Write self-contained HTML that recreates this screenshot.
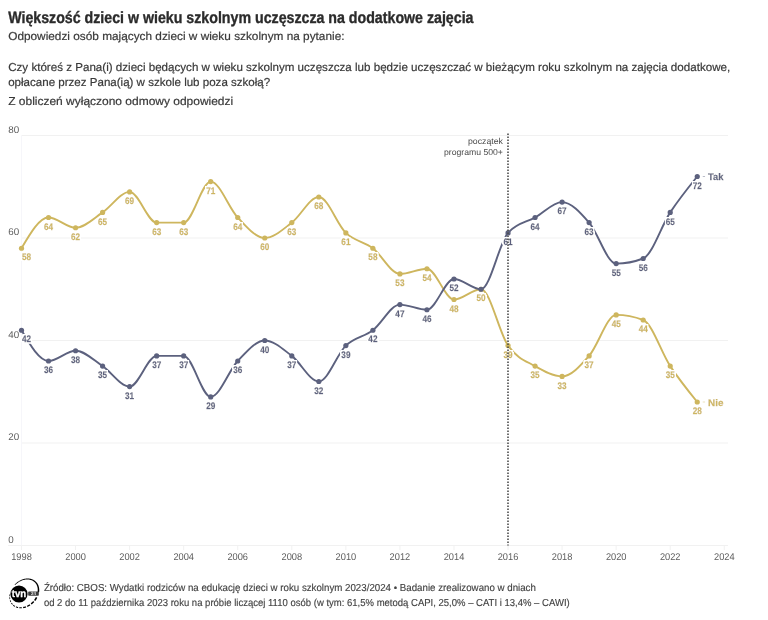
<!DOCTYPE html><html lang="pl"><head><meta charset="utf-8"><title>Większość dzieci w wieku szkolnym uczęszcza na dodatkowe zajęcia</title>
<style>html,body{margin:0;padding:0;background:#fff}svg{display:block}text{font-family:"Liberation Sans",sans-serif;text-rendering:geometricPrecision}</style></head><body>
<svg width="768" height="620" viewBox="0 0 768 620">
<rect width="768" height="620" fill="#fff"/>
<defs><filter id="halo" x="-40%" y="-40%" width="180%" height="180%"><feMorphology in="SourceAlpha" operator="dilate" radius="1.2" result="d"/><feGaussianBlur in="d" stdDeviation="0.35" result="b"/><feFlood flood-color="#fff"/><feComposite in2="b" operator="in" result="h"/><feComponentTransfer in="h" result="h2"><feFuncA type="linear" slope="3"/></feComponentTransfer><feMerge><feMergeNode in="h2"/><feMergeNode in="SourceGraphic"/></feMerge></filter></defs>
<text x="8.2" y="23.4" font-size="16.40" fill="#2b2b2b" text-anchor="start" font-weight="bold" textLength="465.3" lengthAdjust="spacingAndGlyphs" stroke="#2b2b2b" stroke-width="0.35">Większość dzieci w wieku szkolnym uczęszcza na dodatkowe zajęcia</text>
<text x="8.2" y="39.5" font-size="11.50" fill="#3a3a3a" text-anchor="start" font-weight="normal" textLength="336.3" lengthAdjust="spacingAndGlyphs" stroke="#3a3a3a" stroke-width="0.2">Odpowiedzi osób mających dzieci w wieku szkolnym na pytanie:</text>
<text x="8.2" y="70.5" font-size="11.50" fill="#3a3a3a" text-anchor="start" font-weight="normal" textLength="722.0" lengthAdjust="spacingAndGlyphs" stroke="#3a3a3a" stroke-width="0.2">Czy któreś z Pana(i) dzieci będących w wieku szkolnym uczęszcza lub będzie uczęszczać w bieżącym roku szkolnym na zajęcia dodatkowe,</text>
<text x="8.2" y="85.5" font-size="11.50" fill="#3a3a3a" text-anchor="start" font-weight="normal" textLength="262.0" lengthAdjust="spacingAndGlyphs" stroke="#3a3a3a" stroke-width="0.2">opłacane przez Pana(ią) w szkole lub poza szkołą?</text>
<text x="8.2" y="105.3" font-size="11.50" fill="#3a3a3a" text-anchor="start" font-weight="normal" textLength="225.0" lengthAdjust="spacingAndGlyphs" stroke="#3a3a3a" stroke-width="0.2">Z obliczeń wyłączono odmowy odpowiedzi</text>
<line x1="21.5" x2="728" y1="135.50" y2="135.50" stroke="#f1f1f1" stroke-width="1"/>
<text x="8.2" y="132.6" font-size="9.80" fill="#5c5c5c" text-anchor="start" font-weight="normal" >80</text>
<line x1="21.5" x2="728" y1="238.00" y2="238.00" stroke="#f1f1f1" stroke-width="1"/>
<text x="8.2" y="235.1" font-size="9.80" fill="#5c5c5c" text-anchor="start" font-weight="normal" >60</text>
<line x1="21.5" x2="728" y1="340.50" y2="340.50" stroke="#f1f1f1" stroke-width="1"/>
<text x="8.2" y="337.6" font-size="9.80" fill="#5c5c5c" text-anchor="start" font-weight="normal" >40</text>
<line x1="21.5" x2="728" y1="443.00" y2="443.00" stroke="#f1f1f1" stroke-width="1"/>
<text x="8.2" y="440.1" font-size="9.80" fill="#5c5c5c" text-anchor="start" font-weight="normal" >20</text>
<line x1="8" x2="728" y1="545.50" y2="545.50" stroke="#f1f1f1" stroke-width="1"/>
<text x="8.2" y="542.6" font-size="9.80" fill="#5c5c5c" text-anchor="start" font-weight="normal" >0</text>
<line x1="21.5" x2="21.5" y1="135.50" y2="545.5" stroke="#f6f6fa" stroke-width="1"/>
<line x1="21.50" x2="21.50" y1="545.5" y2="550" stroke="#f1f1f1" stroke-width="1"/>
<text x="21.5" y="560.4" font-size="9.80" fill="#5c5c5c" text-anchor="middle" font-weight="normal" textLength="20.6" lengthAdjust="spacingAndGlyphs" >1998</text>
<line x1="75.56" x2="75.56" y1="545.5" y2="550" stroke="#f1f1f1" stroke-width="1"/>
<text x="75.6" y="560.4" font-size="9.80" fill="#5c5c5c" text-anchor="middle" font-weight="normal" textLength="20.6" lengthAdjust="spacingAndGlyphs" >2000</text>
<line x1="129.62" x2="129.62" y1="545.5" y2="550" stroke="#f1f1f1" stroke-width="1"/>
<text x="129.6" y="560.4" font-size="9.80" fill="#5c5c5c" text-anchor="middle" font-weight="normal" textLength="20.6" lengthAdjust="spacingAndGlyphs" >2002</text>
<line x1="183.68" x2="183.68" y1="545.5" y2="550" stroke="#f1f1f1" stroke-width="1"/>
<text x="183.7" y="560.4" font-size="9.80" fill="#5c5c5c" text-anchor="middle" font-weight="normal" textLength="20.6" lengthAdjust="spacingAndGlyphs" >2004</text>
<line x1="237.74" x2="237.74" y1="545.5" y2="550" stroke="#f1f1f1" stroke-width="1"/>
<text x="237.7" y="560.4" font-size="9.80" fill="#5c5c5c" text-anchor="middle" font-weight="normal" textLength="20.6" lengthAdjust="spacingAndGlyphs" >2006</text>
<line x1="291.80" x2="291.80" y1="545.5" y2="550" stroke="#f1f1f1" stroke-width="1"/>
<text x="291.8" y="560.4" font-size="9.80" fill="#5c5c5c" text-anchor="middle" font-weight="normal" textLength="20.6" lengthAdjust="spacingAndGlyphs" >2008</text>
<line x1="345.86" x2="345.86" y1="545.5" y2="550" stroke="#f1f1f1" stroke-width="1"/>
<text x="345.9" y="560.4" font-size="9.80" fill="#5c5c5c" text-anchor="middle" font-weight="normal" textLength="20.6" lengthAdjust="spacingAndGlyphs" >2010</text>
<line x1="399.92" x2="399.92" y1="545.5" y2="550" stroke="#f1f1f1" stroke-width="1"/>
<text x="399.9" y="560.4" font-size="9.80" fill="#5c5c5c" text-anchor="middle" font-weight="normal" textLength="20.6" lengthAdjust="spacingAndGlyphs" >2012</text>
<line x1="453.98" x2="453.98" y1="545.5" y2="550" stroke="#f1f1f1" stroke-width="1"/>
<text x="454.0" y="560.4" font-size="9.80" fill="#5c5c5c" text-anchor="middle" font-weight="normal" textLength="20.6" lengthAdjust="spacingAndGlyphs" >2014</text>
<line x1="508.04" x2="508.04" y1="545.5" y2="550" stroke="#f1f1f1" stroke-width="1"/>
<text x="508.0" y="560.4" font-size="9.80" fill="#5c5c5c" text-anchor="middle" font-weight="normal" textLength="20.6" lengthAdjust="spacingAndGlyphs" >2016</text>
<line x1="562.10" x2="562.10" y1="545.5" y2="550" stroke="#f1f1f1" stroke-width="1"/>
<text x="562.1" y="560.4" font-size="9.80" fill="#5c5c5c" text-anchor="middle" font-weight="normal" textLength="20.6" lengthAdjust="spacingAndGlyphs" >2018</text>
<line x1="616.16" x2="616.16" y1="545.5" y2="550" stroke="#f1f1f1" stroke-width="1"/>
<text x="616.2" y="560.4" font-size="9.80" fill="#5c5c5c" text-anchor="middle" font-weight="normal" textLength="20.6" lengthAdjust="spacingAndGlyphs" >2020</text>
<line x1="670.22" x2="670.22" y1="545.5" y2="550" stroke="#f1f1f1" stroke-width="1"/>
<text x="670.2" y="560.4" font-size="9.80" fill="#5c5c5c" text-anchor="middle" font-weight="normal" textLength="20.6" lengthAdjust="spacingAndGlyphs" >2022</text>
<line x1="724.28" x2="724.28" y1="545.5" y2="550" stroke="#f1f1f1" stroke-width="1"/>
<text x="724.3" y="560.4" font-size="9.80" fill="#5c5c5c" text-anchor="middle" font-weight="normal" textLength="20.6" lengthAdjust="spacingAndGlyphs" >2024</text>
<text x="502.9" y="144.2" font-size="8.60" fill="#4a4a4a" text-anchor="end" font-weight="normal" textLength="34.9" lengthAdjust="spacingAndGlyphs" >początek</text>
<text x="502.9" y="155.1" font-size="8.60" fill="#4a4a4a" text-anchor="end" font-weight="normal" textLength="58.9" lengthAdjust="spacingAndGlyphs" >programu 500+</text>
<path d="M21.50,248.25C30.51,232.88,39.52,217.50,48.53,217.50C57.54,217.50,66.55,227.75,75.56,227.75C84.57,227.75,93.58,218.35,102.59,212.38C111.60,206.40,120.61,191.88,129.62,191.88C138.63,191.88,147.64,222.62,156.65,222.62C165.66,222.62,174.67,222.62,183.68,222.62C192.69,222.62,201.70,181.62,210.71,181.62C219.72,181.62,228.73,208.10,237.74,217.50C246.75,226.90,255.76,238.00,264.77,238.00C273.78,238.00,282.79,229.46,291.80,222.62C300.81,215.79,309.82,197.00,318.83,197.00C327.84,197.00,336.85,224.33,345.86,232.88C354.87,241.42,363.88,241.42,372.89,248.25C381.90,255.08,390.91,273.88,399.92,273.88C408.93,273.88,417.94,268.75,426.95,268.75C435.96,268.75,444.97,299.50,453.98,299.50C462.99,299.50,472.00,289.25,481.01,289.25C490.02,289.25,499.03,332.81,508.04,345.62C517.05,358.44,526.06,361.00,535.07,366.12C544.08,371.25,553.09,376.38,562.10,376.38C571.11,376.38,580.12,366.12,589.13,355.88C598.14,345.62,607.15,314.88,616.16,314.88C625.17,314.88,634.18,316.58,643.19,320.00C652.20,323.42,661.21,352.46,670.22,366.12C679.23,379.79,688.24,390.90,697.25,402.00" fill="none" stroke="#ceb65e" stroke-width="1.9" stroke-linejoin="round" stroke-linecap="round"/>
<circle cx="21.50" cy="248.25" r="2.6" fill="#ceb65e"/>
<circle cx="48.53" cy="217.50" r="2.6" fill="#ceb65e"/>
<circle cx="75.56" cy="227.75" r="2.6" fill="#ceb65e"/>
<circle cx="102.59" cy="212.38" r="2.6" fill="#ceb65e"/>
<circle cx="129.62" cy="191.88" r="2.6" fill="#ceb65e"/>
<circle cx="156.65" cy="222.62" r="2.6" fill="#ceb65e"/>
<circle cx="183.68" cy="222.62" r="2.6" fill="#ceb65e"/>
<circle cx="210.71" cy="181.62" r="2.6" fill="#ceb65e"/>
<circle cx="237.74" cy="217.50" r="2.6" fill="#ceb65e"/>
<circle cx="264.77" cy="238.00" r="2.6" fill="#ceb65e"/>
<circle cx="291.80" cy="222.62" r="2.6" fill="#ceb65e"/>
<circle cx="318.83" cy="197.00" r="2.6" fill="#ceb65e"/>
<circle cx="345.86" cy="232.88" r="2.6" fill="#ceb65e"/>
<circle cx="372.89" cy="248.25" r="2.6" fill="#ceb65e"/>
<circle cx="399.92" cy="273.88" r="2.6" fill="#ceb65e"/>
<circle cx="426.95" cy="268.75" r="2.6" fill="#ceb65e"/>
<circle cx="453.98" cy="299.50" r="2.6" fill="#ceb65e"/>
<circle cx="481.01" cy="289.25" r="2.6" fill="#ceb65e"/>
<circle cx="508.04" cy="345.62" r="2.6" fill="#ceb65e"/>
<circle cx="535.07" cy="366.12" r="2.6" fill="#ceb65e"/>
<circle cx="562.10" cy="376.38" r="2.6" fill="#ceb65e"/>
<circle cx="589.13" cy="355.88" r="2.6" fill="#ceb65e"/>
<circle cx="616.16" cy="314.88" r="2.6" fill="#ceb65e"/>
<circle cx="643.19" cy="320.00" r="2.6" fill="#ceb65e"/>
<circle cx="670.22" cy="366.12" r="2.6" fill="#ceb65e"/>
<circle cx="697.25" cy="402.00" r="2.6" fill="#ceb65e"/>
<path d="M21.50,330.25C30.51,345.62,39.52,361.00,48.53,361.00C57.54,361.00,66.55,350.75,75.56,350.75C84.57,350.75,93.58,360.15,102.59,366.12C111.60,372.10,120.61,386.62,129.62,386.62C138.63,386.62,147.64,355.88,156.65,355.88C165.66,355.88,174.67,355.88,183.68,355.88C192.69,355.88,201.70,396.88,210.71,396.88C219.72,396.88,228.73,370.40,237.74,361.00C246.75,351.60,255.76,340.50,264.77,340.50C273.78,340.50,282.79,349.04,291.80,355.88C300.81,362.71,309.82,381.50,318.83,381.50C327.84,381.50,336.85,354.17,345.86,345.62C354.87,337.08,363.88,337.08,372.89,330.25C381.90,323.42,390.91,304.62,399.92,304.62C408.93,304.62,417.94,309.75,426.95,309.75C435.96,309.75,444.97,279.00,453.98,279.00C462.99,279.00,472.00,289.25,481.01,289.25C490.02,289.25,499.03,243.12,508.04,232.88C517.05,222.62,526.06,222.62,535.07,217.50C544.08,212.38,553.09,202.12,562.10,202.12C571.11,202.12,580.12,212.38,589.13,222.62C598.14,232.88,607.15,263.62,616.16,263.62C625.17,263.62,634.18,261.92,643.19,258.50C652.20,255.08,661.21,226.04,670.22,212.38C679.23,198.71,688.24,187.60,697.25,176.50" fill="none" stroke="#5c617e" stroke-width="1.9" stroke-linejoin="round" stroke-linecap="round"/>
<circle cx="21.50" cy="330.25" r="2.6" fill="#5c617e"/>
<circle cx="48.53" cy="361.00" r="2.6" fill="#5c617e"/>
<circle cx="75.56" cy="350.75" r="2.6" fill="#5c617e"/>
<circle cx="102.59" cy="366.12" r="2.6" fill="#5c617e"/>
<circle cx="129.62" cy="386.62" r="2.6" fill="#5c617e"/>
<circle cx="156.65" cy="355.88" r="2.6" fill="#5c617e"/>
<circle cx="183.68" cy="355.88" r="2.6" fill="#5c617e"/>
<circle cx="210.71" cy="396.88" r="2.6" fill="#5c617e"/>
<circle cx="237.74" cy="361.00" r="2.6" fill="#5c617e"/>
<circle cx="264.77" cy="340.50" r="2.6" fill="#5c617e"/>
<circle cx="291.80" cy="355.88" r="2.6" fill="#5c617e"/>
<circle cx="318.83" cy="381.50" r="2.6" fill="#5c617e"/>
<circle cx="345.86" cy="345.62" r="2.6" fill="#5c617e"/>
<circle cx="372.89" cy="330.25" r="2.6" fill="#5c617e"/>
<circle cx="399.92" cy="304.62" r="2.6" fill="#5c617e"/>
<circle cx="426.95" cy="309.75" r="2.6" fill="#5c617e"/>
<circle cx="453.98" cy="279.00" r="2.6" fill="#5c617e"/>
<circle cx="481.01" cy="289.25" r="2.6" fill="#5c617e"/>
<circle cx="508.04" cy="232.88" r="2.6" fill="#5c617e"/>
<circle cx="535.07" cy="217.50" r="2.6" fill="#5c617e"/>
<circle cx="562.10" cy="202.12" r="2.6" fill="#5c617e"/>
<circle cx="589.13" cy="222.62" r="2.6" fill="#5c617e"/>
<circle cx="616.16" cy="263.62" r="2.6" fill="#5c617e"/>
<circle cx="643.19" cy="258.50" r="2.6" fill="#5c617e"/>
<circle cx="670.22" cy="212.38" r="2.6" fill="#5c617e"/>
<circle cx="697.25" cy="176.50" r="2.6" fill="#5c617e"/>
<text x="26.5" y="342.4" font-size="9.50" fill="#5c617e" text-anchor="middle" font-weight="bold" textLength="9.1" lengthAdjust="spacingAndGlyphs" stroke="#5c617e" stroke-width="0.3" filter="url(#halo)">42</text>
<text x="48.5" y="373.1" font-size="9.50" fill="#5c617e" text-anchor="middle" font-weight="bold" textLength="9.1" lengthAdjust="spacingAndGlyphs" stroke="#5c617e" stroke-width="0.3" filter="url(#halo)">36</text>
<text x="75.6" y="362.9" font-size="9.50" fill="#5c617e" text-anchor="middle" font-weight="bold" textLength="9.1" lengthAdjust="spacingAndGlyphs" stroke="#5c617e" stroke-width="0.3" filter="url(#halo)">38</text>
<text x="102.6" y="378.2" font-size="9.50" fill="#5c617e" text-anchor="middle" font-weight="bold" textLength="9.1" lengthAdjust="spacingAndGlyphs" stroke="#5c617e" stroke-width="0.3" filter="url(#halo)">35</text>
<text x="129.6" y="398.7" font-size="9.50" fill="#5c617e" text-anchor="middle" font-weight="bold" textLength="9.1" lengthAdjust="spacingAndGlyphs" stroke="#5c617e" stroke-width="0.3" filter="url(#halo)">31</text>
<text x="156.7" y="368.0" font-size="9.50" fill="#5c617e" text-anchor="middle" font-weight="bold" textLength="9.1" lengthAdjust="spacingAndGlyphs" stroke="#5c617e" stroke-width="0.3" filter="url(#halo)">37</text>
<text x="183.7" y="368.0" font-size="9.50" fill="#5c617e" text-anchor="middle" font-weight="bold" textLength="9.1" lengthAdjust="spacingAndGlyphs" stroke="#5c617e" stroke-width="0.3" filter="url(#halo)">37</text>
<text x="210.7" y="409.0" font-size="9.50" fill="#5c617e" text-anchor="middle" font-weight="bold" textLength="9.1" lengthAdjust="spacingAndGlyphs" stroke="#5c617e" stroke-width="0.3" filter="url(#halo)">29</text>
<text x="237.7" y="373.1" font-size="9.50" fill="#5c617e" text-anchor="middle" font-weight="bold" textLength="9.1" lengthAdjust="spacingAndGlyphs" stroke="#5c617e" stroke-width="0.3" filter="url(#halo)">36</text>
<text x="264.8" y="352.6" font-size="9.50" fill="#5c617e" text-anchor="middle" font-weight="bold" textLength="9.1" lengthAdjust="spacingAndGlyphs" stroke="#5c617e" stroke-width="0.3" filter="url(#halo)">40</text>
<text x="291.8" y="368.0" font-size="9.50" fill="#5c617e" text-anchor="middle" font-weight="bold" textLength="9.1" lengthAdjust="spacingAndGlyphs" stroke="#5c617e" stroke-width="0.3" filter="url(#halo)">37</text>
<text x="318.8" y="393.6" font-size="9.50" fill="#5c617e" text-anchor="middle" font-weight="bold" textLength="9.1" lengthAdjust="spacingAndGlyphs" stroke="#5c617e" stroke-width="0.3" filter="url(#halo)">32</text>
<text x="345.9" y="357.7" font-size="9.50" fill="#5c617e" text-anchor="middle" font-weight="bold" textLength="9.1" lengthAdjust="spacingAndGlyphs" stroke="#5c617e" stroke-width="0.3" filter="url(#halo)">39</text>
<text x="372.9" y="342.4" font-size="9.50" fill="#5c617e" text-anchor="middle" font-weight="bold" textLength="9.1" lengthAdjust="spacingAndGlyphs" stroke="#5c617e" stroke-width="0.3" filter="url(#halo)">42</text>
<text x="399.9" y="316.7" font-size="9.50" fill="#5c617e" text-anchor="middle" font-weight="bold" textLength="9.1" lengthAdjust="spacingAndGlyphs" stroke="#5c617e" stroke-width="0.3" filter="url(#halo)">47</text>
<text x="427.0" y="321.9" font-size="9.50" fill="#5c617e" text-anchor="middle" font-weight="bold" textLength="9.1" lengthAdjust="spacingAndGlyphs" stroke="#5c617e" stroke-width="0.3" filter="url(#halo)">46</text>
<text x="454.0" y="291.1" font-size="9.50" fill="#5c617e" text-anchor="middle" font-weight="bold" textLength="9.1" lengthAdjust="spacingAndGlyphs" stroke="#5c617e" stroke-width="0.3" filter="url(#halo)">52</text>
<text x="481.0" y="301.4" font-size="9.50" fill="#5c617e" text-anchor="middle" font-weight="bold" textLength="9.1" lengthAdjust="spacingAndGlyphs" stroke="#5c617e" stroke-width="0.3" filter="url(#halo)">50</text>
<text x="508.0" y="245.0" font-size="9.50" fill="#5c617e" text-anchor="middle" font-weight="bold" textLength="9.1" lengthAdjust="spacingAndGlyphs" stroke="#5c617e" stroke-width="0.3" filter="url(#halo)">61</text>
<text x="535.1" y="229.6" font-size="9.50" fill="#5c617e" text-anchor="middle" font-weight="bold" textLength="9.1" lengthAdjust="spacingAndGlyphs" stroke="#5c617e" stroke-width="0.3" filter="url(#halo)">64</text>
<text x="562.1" y="214.2" font-size="9.50" fill="#5c617e" text-anchor="middle" font-weight="bold" textLength="9.1" lengthAdjust="spacingAndGlyphs" stroke="#5c617e" stroke-width="0.3" filter="url(#halo)">67</text>
<text x="589.1" y="234.7" font-size="9.50" fill="#5c617e" text-anchor="middle" font-weight="bold" textLength="9.1" lengthAdjust="spacingAndGlyphs" stroke="#5c617e" stroke-width="0.3" filter="url(#halo)">63</text>
<text x="616.2" y="275.7" font-size="9.50" fill="#5c617e" text-anchor="middle" font-weight="bold" textLength="9.1" lengthAdjust="spacingAndGlyphs" stroke="#5c617e" stroke-width="0.3" filter="url(#halo)">55</text>
<text x="643.2" y="270.6" font-size="9.50" fill="#5c617e" text-anchor="middle" font-weight="bold" textLength="9.1" lengthAdjust="spacingAndGlyphs" stroke="#5c617e" stroke-width="0.3" filter="url(#halo)">56</text>
<text x="670.2" y="224.5" font-size="9.50" fill="#5c617e" text-anchor="middle" font-weight="bold" textLength="9.1" lengthAdjust="spacingAndGlyphs" stroke="#5c617e" stroke-width="0.3" filter="url(#halo)">65</text>
<text x="697.2" y="188.6" font-size="9.50" fill="#5c617e" text-anchor="middle" font-weight="bold" textLength="9.1" lengthAdjust="spacingAndGlyphs" stroke="#5c617e" stroke-width="0.3" filter="url(#halo)">72</text>
<line x1="702.75" x2="705.05" y1="176.50" y2="176.50" stroke="#5c617e" stroke-width="0.7" opacity="0.6"/>
<text x="708.0" y="180.1" font-size="9.60" fill="#5c617e" text-anchor="start" font-weight="bold" textLength="15.4" lengthAdjust="spacingAndGlyphs" stroke="#5c617e" stroke-width="0.3" filter="url(#halo)">Tak</text>
<text x="26.5" y="260.4" font-size="9.50" fill="#ceb65e" text-anchor="middle" font-weight="bold" textLength="9.1" lengthAdjust="spacingAndGlyphs" stroke="#ceb65e" stroke-width="0.3" filter="url(#halo)">58</text>
<text x="48.5" y="229.6" font-size="9.50" fill="#ceb65e" text-anchor="middle" font-weight="bold" textLength="9.1" lengthAdjust="spacingAndGlyphs" stroke="#ceb65e" stroke-width="0.3" filter="url(#halo)">64</text>
<text x="75.6" y="239.8" font-size="9.50" fill="#ceb65e" text-anchor="middle" font-weight="bold" textLength="9.1" lengthAdjust="spacingAndGlyphs" stroke="#ceb65e" stroke-width="0.3" filter="url(#halo)">62</text>
<text x="102.6" y="224.5" font-size="9.50" fill="#ceb65e" text-anchor="middle" font-weight="bold" textLength="9.1" lengthAdjust="spacingAndGlyphs" stroke="#ceb65e" stroke-width="0.3" filter="url(#halo)">65</text>
<text x="129.6" y="204.0" font-size="9.50" fill="#ceb65e" text-anchor="middle" font-weight="bold" textLength="9.1" lengthAdjust="spacingAndGlyphs" stroke="#ceb65e" stroke-width="0.3" filter="url(#halo)">69</text>
<text x="156.7" y="234.7" font-size="9.50" fill="#ceb65e" text-anchor="middle" font-weight="bold" textLength="9.1" lengthAdjust="spacingAndGlyphs" stroke="#ceb65e" stroke-width="0.3" filter="url(#halo)">63</text>
<text x="183.7" y="234.7" font-size="9.50" fill="#ceb65e" text-anchor="middle" font-weight="bold" textLength="9.1" lengthAdjust="spacingAndGlyphs" stroke="#ceb65e" stroke-width="0.3" filter="url(#halo)">63</text>
<text x="210.7" y="193.7" font-size="9.50" fill="#ceb65e" text-anchor="middle" font-weight="bold" textLength="9.1" lengthAdjust="spacingAndGlyphs" stroke="#ceb65e" stroke-width="0.3" filter="url(#halo)">71</text>
<text x="237.7" y="229.6" font-size="9.50" fill="#ceb65e" text-anchor="middle" font-weight="bold" textLength="9.1" lengthAdjust="spacingAndGlyphs" stroke="#ceb65e" stroke-width="0.3" filter="url(#halo)">64</text>
<text x="264.8" y="250.1" font-size="9.50" fill="#ceb65e" text-anchor="middle" font-weight="bold" textLength="9.1" lengthAdjust="spacingAndGlyphs" stroke="#ceb65e" stroke-width="0.3" filter="url(#halo)">60</text>
<text x="291.8" y="234.7" font-size="9.50" fill="#ceb65e" text-anchor="middle" font-weight="bold" textLength="9.1" lengthAdjust="spacingAndGlyphs" stroke="#ceb65e" stroke-width="0.3" filter="url(#halo)">63</text>
<text x="318.8" y="209.1" font-size="9.50" fill="#ceb65e" text-anchor="middle" font-weight="bold" textLength="9.1" lengthAdjust="spacingAndGlyphs" stroke="#ceb65e" stroke-width="0.3" filter="url(#halo)">68</text>
<text x="345.9" y="245.0" font-size="9.50" fill="#ceb65e" text-anchor="middle" font-weight="bold" textLength="9.1" lengthAdjust="spacingAndGlyphs" stroke="#ceb65e" stroke-width="0.3" filter="url(#halo)">61</text>
<text x="372.9" y="260.4" font-size="9.50" fill="#ceb65e" text-anchor="middle" font-weight="bold" textLength="9.1" lengthAdjust="spacingAndGlyphs" stroke="#ceb65e" stroke-width="0.3" filter="url(#halo)">58</text>
<text x="399.9" y="286.0" font-size="9.50" fill="#ceb65e" text-anchor="middle" font-weight="bold" textLength="9.1" lengthAdjust="spacingAndGlyphs" stroke="#ceb65e" stroke-width="0.3" filter="url(#halo)">53</text>
<text x="427.0" y="280.9" font-size="9.50" fill="#ceb65e" text-anchor="middle" font-weight="bold" textLength="9.1" lengthAdjust="spacingAndGlyphs" stroke="#ceb65e" stroke-width="0.3" filter="url(#halo)">54</text>
<text x="454.0" y="311.6" font-size="9.50" fill="#ceb65e" text-anchor="middle" font-weight="bold" textLength="9.1" lengthAdjust="spacingAndGlyphs" stroke="#ceb65e" stroke-width="0.3" filter="url(#halo)">48</text>
<text x="481.0" y="301.4" font-size="9.50" fill="#ceb65e" text-anchor="middle" font-weight="bold" textLength="9.1" lengthAdjust="spacingAndGlyphs" stroke="#ceb65e" stroke-width="0.3" filter="url(#halo)">50</text>
<text x="508.0" y="357.7" font-size="9.50" fill="#ceb65e" text-anchor="middle" font-weight="bold" textLength="9.1" lengthAdjust="spacingAndGlyphs" stroke="#ceb65e" stroke-width="0.3" filter="url(#halo)">39</text>
<text x="535.1" y="378.2" font-size="9.50" fill="#ceb65e" text-anchor="middle" font-weight="bold" textLength="9.1" lengthAdjust="spacingAndGlyphs" stroke="#ceb65e" stroke-width="0.3" filter="url(#halo)">35</text>
<text x="562.1" y="388.5" font-size="9.50" fill="#ceb65e" text-anchor="middle" font-weight="bold" textLength="9.1" lengthAdjust="spacingAndGlyphs" stroke="#ceb65e" stroke-width="0.3" filter="url(#halo)">33</text>
<text x="589.1" y="368.0" font-size="9.50" fill="#ceb65e" text-anchor="middle" font-weight="bold" textLength="9.1" lengthAdjust="spacingAndGlyphs" stroke="#ceb65e" stroke-width="0.3" filter="url(#halo)">37</text>
<text x="616.2" y="327.0" font-size="9.50" fill="#ceb65e" text-anchor="middle" font-weight="bold" textLength="9.1" lengthAdjust="spacingAndGlyphs" stroke="#ceb65e" stroke-width="0.3" filter="url(#halo)">45</text>
<text x="643.2" y="332.1" font-size="9.50" fill="#ceb65e" text-anchor="middle" font-weight="bold" textLength="9.1" lengthAdjust="spacingAndGlyphs" stroke="#ceb65e" stroke-width="0.3" filter="url(#halo)">44</text>
<text x="670.2" y="378.2" font-size="9.50" fill="#ceb65e" text-anchor="middle" font-weight="bold" textLength="9.1" lengthAdjust="spacingAndGlyphs" stroke="#ceb65e" stroke-width="0.3" filter="url(#halo)">35</text>
<text x="697.2" y="414.1" font-size="9.50" fill="#ceb65e" text-anchor="middle" font-weight="bold" textLength="9.1" lengthAdjust="spacingAndGlyphs" stroke="#ceb65e" stroke-width="0.3" filter="url(#halo)">28</text>
<line x1="702.75" x2="705.05" y1="402.00" y2="402.00" stroke="#ceb65e" stroke-width="0.7" opacity="0.6"/>
<text x="708.0" y="405.6" font-size="9.60" fill="#ceb65e" text-anchor="start" font-weight="bold" textLength="15.4" lengthAdjust="spacingAndGlyphs" stroke="#ceb65e" stroke-width="0.3" filter="url(#halo)">Nie</text>
<line x1="508.00" x2="508.00" y1="133.5" y2="545.5" stroke="#4c4c4c" stroke-width="1.6" stroke-dasharray="1.5 1.5"/>
<text x="43.9" y="591.3" font-size="10.10" fill="#444" text-anchor="start" font-weight="normal" textLength="492.0" lengthAdjust="spacingAndGlyphs" stroke="#444" stroke-width="0.15">Źródło: CBOS: Wydatki rodziców na edukację dzieci w roku szkolnym 2023/2024 • Badanie zrealizowano w dniach</text>
<text x="43.9" y="605.6" font-size="10.10" fill="#444" text-anchor="start" font-weight="normal" textLength="525.8" lengthAdjust="spacingAndGlyphs" stroke="#444" stroke-width="0.15">od 2 do 11 października 2023 roku na próbie liczącej 1110 osób (w tym: 61,5% metodą CAPI, 25,0% – CATI i 13,4% – CAWI)</text>
<g id="logo">
<path d="M15.02,585.10L15.61,584.51L16.22,583.95L16.86,583.42L17.52,582.92L18.19,582.45L18.88,582.01L19.58,581.60L20.30,581.22L21.02,580.88L21.75,580.58L22.49,580.31L23.23,580.08L23.97,579.89L24.71,579.73L25.45,579.61L26.18,579.54L26.91,579.50L27.62,579.50L28.32,579.53L29.01,579.61L29.69,579.72L30.34,579.88L30.98,580.06L31.60,580.29L32.19,580.55L32.76,580.84L33.30,581.17L33.82,581.53L34.31,581.92L34.77,582.34L35.20,582.78L35.60,583.26L35.97,583.77L36.30,584.29L36.61,584.85L36.87,585.42L37.11,586.02L37.30,586.64L37.46,587.27L37.59,587.92L37.67,588.59L37.72,589.27L37.73,589.96L37.71,590.66L37.64,591.37L37.54,592.08L39.12,592.32L39.21,591.52L39.26,590.73L39.27,589.95L39.23,589.18L39.15,588.41L39.03,587.67L38.87,586.93L38.67,586.22L38.42,585.53L38.14,584.86L37.81,584.21L37.45,583.60L37.05,583.01L36.61,582.45L36.14,581.92L35.63,581.42L35.09,580.97L34.53,580.54L33.93,580.16L33.31,579.81L32.66,579.51L31.99,579.24L31.31,579.01L30.60,578.83L29.88,578.68L29.14,578.58L28.39,578.52L27.63,578.50L26.86,578.53L26.09,578.59L25.31,578.70L24.54,578.84L23.76,579.03L22.98,579.26L22.21,579.52L21.44,579.82L20.69,580.16L19.94,580.54L19.21,580.95L18.49,581.39L17.79,581.87L17.10,582.37L16.44,582.91L15.80,583.48L15.18,584.07L14.58,584.68Z" fill="#000"/>
<path d="M35.89,597.06L35.49,597.80L35.05,598.54L34.58,599.26L34.07,599.96L35.27,600.90L35.84,600.15L36.37,599.38L36.86,598.60L37.31,597.79ZM33.13,601.10L32.57,601.71L31.98,602.29L31.37,602.85L30.74,603.38L31.61,604.49L32.30,603.94L32.97,603.35L33.61,602.74L34.23,602.10ZM29.58,604.24L28.93,604.66L28.27,605.06L27.60,605.42L26.92,605.75L27.46,606.94L28.20,606.60L28.92,606.23L29.64,605.82L30.35,605.38ZM25.67,606.27L25.01,606.50L24.35,606.70L23.68,606.87L23.02,607.00L23.22,608.19L23.94,608.06L24.66,607.90L25.38,607.70L26.10,607.47ZM21.79,607.17L21.17,607.21L20.56,607.23L19.96,607.22L19.36,607.17L19.24,608.27L19.89,608.34L20.54,608.37L21.21,608.37L21.88,608.34ZM18.23,607.01L17.70,606.89L17.18,606.75L16.67,606.59L16.17,606.40L15.77,607.33L16.31,607.55L16.86,607.75L17.43,607.92L18.01,608.06ZM15.22,605.94L14.79,605.69L14.38,605.43L13.98,605.14L13.60,604.84L13.00,605.54L13.40,605.89L13.83,606.21L14.27,606.52L14.73,606.80ZM12.86,604.14L12.55,603.80L12.26,603.45L11.98,603.08L11.72,602.69L11.00,603.14L11.27,603.56L11.56,603.97L11.87,604.37L12.20,604.75ZM11.21,601.80L11.02,601.40L10.84,600.99L10.68,600.56L10.54,600.13L9.81,600.34L9.95,600.81L10.11,601.27L10.28,601.72L10.48,602.16ZM10.28,599.10L10.20,598.67L10.14,598.23L10.09,597.78L10.05,597.33L9.37,597.36L9.39,597.83L9.43,598.31L9.49,598.78L9.56,599.24ZM10.04,596.23L10.06,595.79L10.09,595.34L10.14,594.90L10.20,594.45L9.60,594.35L9.52,594.81L9.46,595.28L9.41,595.74L9.38,596.20Z" fill="#000"/>
<circle cx="19.0" cy="594.0" r="8.6" fill="#000"/>
<text x="19.0" y="597.2" font-size="10.5" font-weight="bold" fill="#fff" text-anchor="middle" textLength="14.4" lengthAdjust="spacingAndGlyphs" stroke="#fff" stroke-width="0.3">tvn</text>
<rect x="28.2" y="591.6" width="10.6" height="4.1" rx="0.8" fill="#3a3a3a"/>
<text x="33.6" y="595.2" font-size="4.6" font-weight="bold" fill="#ddd" text-anchor="middle">24</text>
</g>
</svg></body></html>
